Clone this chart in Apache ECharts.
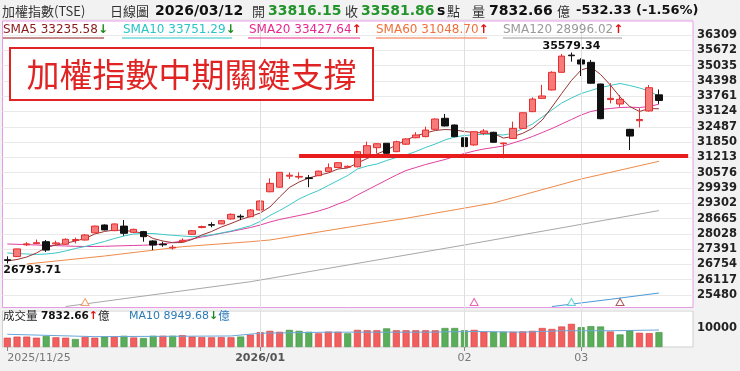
<!DOCTYPE html>
<html><head><meta charset="utf-8">
<script src="https://cdn.jsdelivr.net/npm/echarts@6/dist/echarts.min.js"></script>
<style>html,body{margin:0;padding:0;background:#f2f2f2;}#c{width:740px;height:371px;}</style>
</head><body><div id="c"></div>
<script>
// ---------------- DATA ----------------
const dates = ['2025/11/25','2025/11/26','2025/11/27','2025/11/28',
'2025/12/01','2025/12/02','2025/12/03','2025/12/04','2025/12/05','2025/12/08','2025/12/09','2025/12/10','2025/12/11','2025/12/12','2025/12/15','2025/12/16','2025/12/17','2025/12/18','2025/12/19','2025/12/22','2025/12/23','2025/12/24','2025/12/26','2025/12/29','2025/12/30','2025/12/31',
'2026/01/02','2026/01/05','2026/01/06','2026/01/07','2026/01/08','2026/01/09','2026/01/12','2026/01/13','2026/01/14','2026/01/15','2026/01/16','2026/01/19','2026/01/20','2026/01/21','2026/01/22','2026/01/23','2026/01/26','2026/01/27','2026/01/28','2026/01/29','2026/01/30',
'2026/02/02','2026/02/03','2026/02/04','2026/02/05','2026/02/06','2026/02/09','2026/02/10','2026/02/11','2026/02/23','2026/02/24','2026/02/25','2026/02/26',
'2026/03/02','2026/03/03','2026/03/04','2026/03/05','2026/03/06','2026/03/09','2026/03/10','2026/03/11','2026/03/12'];

const opens = [26950,27080,27570,27620,27700,27610,27592,27750,27770,28070,
28396,28160,28350,28090,28120,27730,27600,27440,27700,28008,
28290,28410,28440,28645,28760,28740,29020,29780,29970,30430,
30390,30360,30450,30620,30790,30800,30820,31310,31615,31800,
31450,31760,32030,32075,32380,32840,32560,32030,31730,32215,
32257,31780,32000,32420,33115,33670,34020,34755,35470,35270,
35170,34268,33620,33435,32380,32740,33145,33816.15];
const closes = [26920,27400,27610,27660,27350,27650,27800,27790,27980,28350,
28190,28440,28050,28215,27910,27560,27570,27470,27760,28158,
28330,28390,28575,28840,28730,29020,29395,30130,30590,30470,
30420,30330,30640,30780,30990,30840,31450,31700,31780,31380,
31865,31980,32145,32350,32810,32520,32075,31660,32280,32310,
31840,31810,32420,33070,33640,33770,34755,35430,35445,35100,
34300,32823,33670,33630,32100,32790,34114.19,33581.86];
const lows = [26793.71,27060,27520,27600,27270,27560,27570,27630,27750,28050,
28170,28140,27950,28060,27700,27350,27490,27370,27690,27990,
28260,28300,28430,28620,28600,28720,29000,29760,29950,30310,
30300,29970,30430,30600,30770,30780,30800,31290,31380,31370,
31430,31730,32010,32050,32360,32500,32050,31380,31700,32140,
31820,31174,31980,32400,33100,33650,34000,34740,35200,34600,
34280,32800,33460,33320,31520,32460,33120,33440];
const highs = [27090,27410,27680,27790,27770,27740,27840,27870,28020,28370,
28420,28460,28600,28240,28150,27760,27700,27560,27840,28180,
28370,28510,28600,28880,28840,29060,29420,30340,30600,30590,
30590,30480,30660,30960,31010,30870,31480,31865,31800,31810,
31906,32010,32260,32490,32830,33020,32580,32050,32300,32390,
32280,31830,32700,33090,33710,34230,34800,35520,35579.34,35340,
35270,34280,34300,33810,32400,33260,34226,34040];

const volumes = [4900,5450,5450,4900,5800,5100,4900,4200,5300,4900,
5500,5700,5900,5000,4700,5900,5900,5900,6200,5500,
5200,5100,5200,5100,5500,6500,7800,8500,8000,9000,
8500,8000,7200,8100,8000,7200,9000,8800,8800,9800,
8800,8800,8800,8800,8800,10000,10000,8800,9000,8000,
8000,8000,8000,8200,8500,10000,9500,10800,12170,10430,
10960,10780,8170,6610,8700,7480,7300,7832.66];
const volMaIdx = [0,9,23,26,33,43,48,53,57,62,67];
const volMaVal = [6700,5450,5800,7270,7800,7800,8200,7800,8550,8550,8949.68];

const sma5 = [26896,26959,27063,27229,27458,27562,27633,27729,27833,28021,
28125,28187,28166,28125,28050,27833,27729,27658,27667,27792,
27979,28125,28312,28458,28625,28750,28895,29145,29562,29957,
30186,30353,30466,30561,30728,30770,30978,31165,31353,31519,
31727,31936,32102,32227,32331,32373,32352,32290,32248,32227,
32206,32019,32082,32215,32423,32769,33310,33872,34414,34851,
34976,34664,34226,33727,33331,33123,33248,33235.58];
const sma10 = [27229,27208,27188,27167,27188,27229,27313,27417,27500,27604,
27708,27833,27937,28021,28041,28041,28000,27967,27937,27908,
27937,27987,28062,28146,28250,28362,28541,28791,28999,29228,
29478,29666,29832,30041,30249,30457,30728,30853,30936,31082,
31207,31311,31457,31623,31769,31936,32061,32123,32152,32177,
32165,32144,32215,32415,32602,32894,33185,33477,33685,33872,
33997,34122,34206,34289,34206,34102,33977,33751.29];
const sma20 = [27604,27591,27579,27562,27550,27537,27521,27508,27500,27500,
27508,27521,27533,27542,27554,27571,27612,27667,27729,27812,
27896,27971,28050,28125,28208,28291,28395,28520,28625,28708,
28791,28874,28979,29104,29270,29416,29645,29853,30061,30270,
30478,30665,30790,30915,31019,31124,31249,31373,31478,31561,
31623,31686,31811,31936,32082,32248,32415,32602,32790,32977,
33123,33206,33248,33289,33302,33289,33331,33427.64];
const sma60Idx = [2,10,18,25,27,35,41,50,59,67];
const sma60Val = [26771,27104,27492,27700,27771,28300,28675,29312,30311,31048.70];
const sma120Idx = [6,25,47,67];
const sma120Val = [25000,26034,27562,28996.02];
const sma240Idx = [56,62,67];
const sma240Val = [25000,25300,25563];

const markIdx = [63,58,48,8];          // MA deduction markers (SMA5, SMA10, SMA20, SMA60)
const markVal = [25188,25188,25188,25188];

const supportLevel = 31298;
const supportFrom = 30, supportTo = 70;
const monthIdx = [26,47,59];
const xLabelIdx = [0,26,47,59];
const xLabelText = ['2025/11/25','2026/01','02','03'];
const yTickStep = 637, yMin = 24843, yMax = 36946;
const volMax = 18950, volTick = 10000;

// ---------------- BUILD ----------------
const N = dates.length;
const cats = dates.concat(['','','']);
function sparse(idx, vals){ const a = new Array(N).fill(null); idx.forEach((k,j)=>{a[k]=vals[j];}); return a; }
const candle = dates.map((d,i)=>[opens[i],closes[i],lows[i],highs[i]]);
const RED='#f25f5f', GREEN='#5aae5a';
const volData = volumes.map((v,i)=>{
  const up = i===0 ? true : closes[i]>=closes[i-1];
  return {value:v, itemStyle:{color: up?RED:GREEN, borderColor: up?'#d93a3a':'#3f8f3f'}};
});
const maColors = ['#993333','#3cc8c8','#e040a0','#f08a4b','#a8a8a8'];
const markColors = [maColors[0],maColors[1],maColors[2],maColors[3]];

const LAT = '"DejaVu Sans","Noto Sans CJK TC",sans-serif';
const CJK = '"Noto Sans CJK TC","DejaVu Sans",sans-serif';
function T(text,x,y,size,color,weight,family,align){
  return {type:'text', x:x, y:y, z:100, silent:true,
    style:{text:text, fontSize:size, fontWeight:weight||'normal', fontFamily:family||LAT, fill:color, verticalAlign:'middle', align:align||'left'}};
}
function R(text,x,y,size,rich){
  return {type:'text', x:x, y:y, z:100, silent:true, style:{text:text, fontSize:size, fontFamily:LAT, verticalAlign:'middle', rich:rich}};
}
function L(x1,x2,y,color){ return {type:'line', z:100, silent:true, shape:{x1:x1,y1:y,x2:x2,y2:y}, style:{stroke:color, lineWidth:1}}; }

const graphic = [
  {type:'rect', z:-1, silent:true, shape:{x:2.5,y:21,width:690.5,height:286.5}, style:{fill:'#fff', stroke:'#e79be7', lineWidth:1}},
  {type:'rect', z:-1, silent:true, shape:{x:2.5,y:311,width:690.5,height:36}, style:{fill:'#fff', stroke:'#cfcfcf', lineWidth:1}},
  // header
  T('加權指數(TSE)',2,11,13,'#333','normal',CJK),
  T('日線圖',110,11,13,'#333','normal',CJK),
  T('2026/03/12',155,11,14,'#111','bold'),
  T('開',252,11,13,'#333','normal',CJK),
  T('33816.15',268,11,14,'#23932b','bold'),
  T('收',345,11,13,'#333','normal',CJK),
  T('33581.86',361,11,14,'#23932b','bold'),
  T('s',437,11,14,'#111','bold'),
  T('點',447,11,13,'#333','normal',CJK),
  T('量',472,11,13,'#333','normal',CJK),
  T('7832.66',489,11,14,'#111','bold'),
  T('億',557,11,13,'#333','normal',CJK),
  T('-532.33 (-1.56%)',576,11,13,'#111','bold'),
  // MA legend
  R('{t|SMA5 33235.58}{a|↓}',3,30,12,{t:{fill:'#8b1a1a',fontSize:12,fontFamily:LAT},a:{fill:'#1d8a1d',fontSize:12,fontWeight:'bold',fontFamily:LAT}}),
  R('{t|SMA10 33751.29}{a|↓}',123,30,12,{t:{fill:'#29c5c8',fontSize:12,fontFamily:LAT},a:{fill:'#1d8a1d',fontSize:12,fontWeight:'bold',fontFamily:LAT}}),
  R('{t|SMA20 33427.64}{a|↑}',249,30,12,{t:{fill:'#e8288c',fontSize:12,fontFamily:LAT},a:{fill:'#e01010',fontSize:12,fontWeight:'bold',fontFamily:LAT}}),
  R('{t|SMA60 31048.70}{a|↑}',376,30,12,{t:{fill:'#f2713a',fontSize:12,fontFamily:LAT},a:{fill:'#e01010',fontSize:12,fontWeight:'bold',fontFamily:LAT}}),
  R('{t|SMA120 28996.02}{a|↑}',503,30,12,{t:{fill:'#9a9a9a',fontSize:12,fontFamily:LAT},a:{fill:'#e01010',fontSize:12,fontWeight:'bold',fontFamily:LAT}}),
  L(3,104,38,'#8b1a1a'), L(122,232,38,'#29c5c8'), L(248,360,38,'#e8288c'), L(376,487,38,'#f2713a'), L(503,622,38,'#9a9a9a'),
  // volume header
  T('成交量',3,316,11.5,'#222','normal',CJK),
  R('{v|7832.66}{a|↑}{u|億}',41,316,11,{v:{fill:'#111',fontWeight:'bold',fontSize:10.5,fontFamily:LAT},a:{fill:'#e01010',fontWeight:'bold',fontSize:11,fontFamily:LAT},u:{fill:'#222',fontSize:11.5,fontFamily:CJK}}),
  R('{v|MA10 8949.68}{a|↓}{u|億}',129,316,11,{v:{fill:'#2a7ab8',fontSize:11,fontFamily:LAT},a:{fill:'#1d8a1d',fontWeight:'bold',fontSize:11,fontFamily:LAT},u:{fill:'#2a7ab8',fontSize:11.5,fontFamily:CJK}}),
  // title box
  {type:'rect', z:100, silent:true, shape:{x:10,y:48,width:363,height:52}, style:{fill:'#fff', stroke:'#e02424', lineWidth:2}},
  {type:'text', z:101, silent:true, x:191.5, y:74.5, style:{text:'加權指數中期關鍵支撐', fontSize:33, fontFamily:CJK, fill:'#e02424', align:'center', verticalAlign:'middle'}}
];

const option = {
  animation:false,
  backgroundColor:'#f2f2f2',
  graphic: graphic,
  grid:[
    {left:2.43, width:691.5, top:19.7, height:290.6},
    {left:2.43, width:691.5, top:311, height:36}
  ],
  xAxis:[
    {type:'category', gridIndex:0, data:cats, boundaryGap:true, show:false},
    {type:'category', gridIndex:1, data:cats, boundaryGap:true,
      axisLine:{show:false},
      axisTick:{show:true, alignWithLabel:true, length:4, interval:(i)=>xLabelIdx.includes(i), lineStyle:{color:'#888'}},
      axisLabel:{interval:(i)=>xLabelIdx.includes(i), margin:6, color:'#777', fontSize:11, fontFamily:LAT,
        formatter:(v,i)=>{const k=xLabelIdx.indexOf(i); if(k<0) return ''; return k===1?'{b|'+xLabelText[k]+'}':xLabelText[k];},
        rich:{b:{fontWeight:'bold', color:'#555', fontSize:11, fontFamily:LAT}},
        alignMinLabel:'left'},
      splitLine:{show:false}}
  ],
  yAxis:[
    {type:'value', gridIndex:0, position:'right', min:yMin, max:yMax, interval:yTickStep, scale:true,
      axisLine:{show:false}, axisTick:{show:false},
      axisLabel:{showMinLabel:false, showMaxLabel:false, margin:4, fontWeight:'bold', fontSize:11.5, color:'#222', fontFamily:LAT, formatter:(v)=>String(v)},
      splitLine:{lineStyle:{color:'#e9e9e9', width:1}}},
    {type:'value', gridIndex:1, position:'right', min:0, max:volMax, interval:volTick,
      axisLine:{show:false}, axisTick:{show:false}, splitLine:{show:false},
      axisLabel:{margin:4, fontWeight:'bold', fontSize:11.5, color:'#222', fontFamily:LAT, formatter:(v)=>v===volTick?String(volTick):''}}
  ],
  series:[
    {type:'line', name:'SMA120', data:sparse(sma120Idx,sma120Val), connectNulls:true, showSymbol:false, z:2, lineStyle:{color:maColors[4], width:1}},
    {type:'line', name:'SMA240', data:sparse(sma240Idx,sma240Val), connectNulls:true, showSymbol:false, z:2, lineStyle:{color:'#4a9ad8', width:1}},
    {type:'line', name:'SMA60', data:sparse(sma60Idx,sma60Val), connectNulls:true, showSymbol:false, z:2, lineStyle:{color:maColors[3], width:1}},
    {type:'line', name:'SMA20', data:sma20, showSymbol:false, z:2, lineStyle:{color:maColors[2], width:1}},
    {type:'line', name:'SMA10', data:sma10, showSymbol:false, z:2, lineStyle:{color:maColors[1], width:1}},
    {type:'line', name:'SMA5', data:sma5, showSymbol:false, z:2, lineStyle:{color:maColors[0], width:1}},
    {type:'candlestick', name:'K', data:candle, barWidth:7, z:3,
      itemStyle:{color:'#f77a7a', color0:'#111', borderColor:'#e62e2e', borderColor0:'#111', borderWidth:1},
      markPoint:{symbol:'circle', symbolSize:0, silent:true, data:[
        {coord:[0, lows[0]], value:lows[0], label:{show:true, position:'bottom', distance:1, align:'left', offset:[-4,0], formatter:String(lows[0]), color:'#111', fontWeight:'bold', fontSize:11, fontFamily:LAT}},
        {coord:[58, highs[58]], value:highs[58], label:{show:true, position:'top', distance:1, formatter:String(highs[58]), color:'#111', fontWeight:'bold', fontSize:11, fontFamily:LAT}}
      ]},
      markLine:{symbol:['none','none'], silent:true, label:{show:false}, data:
        monthIdx.map(m=>({xAxis:m, lineStyle:{color:'#dedede', width:1, type:'solid'}})).concat([
        [{coord:[supportFrom, supportLevel], lineStyle:{color:'#e81c1c', width:4, type:'solid'}}, {coord:[supportTo, supportLevel]}]
      ])}
    },
    {type:'scatter', name:'marks', data:markIdx.map((k,j)=>({value:[k, markVal[j]], itemStyle:{color:'#fff', borderColor:markColors[j], borderWidth:1}})), symbol:'triangle', symbolSize:[8,7], z:4},
    {type:'bar', xAxisIndex:1, yAxisIndex:1, data:volData, barWidth:7, itemStyle:{borderWidth:0.6},
      markLine:{symbol:['none','none'], silent:true, label:{show:false}, data: monthIdx.map(m=>({xAxis:m, lineStyle:{color:'#dedede', width:1, type:'solid'}}))}},
    {type:'line', xAxisIndex:1, yAxisIndex:1, data:sparse(volMaIdx,volMaVal), connectNulls:true, showSymbol:false, z:4, lineStyle:{color:'#6aa6d8', width:1}}
  ]
};
const chart = echarts.init(document.getElementById('c'), null, {renderer:'canvas'});
chart.setOption(option);
</script></body></html>
